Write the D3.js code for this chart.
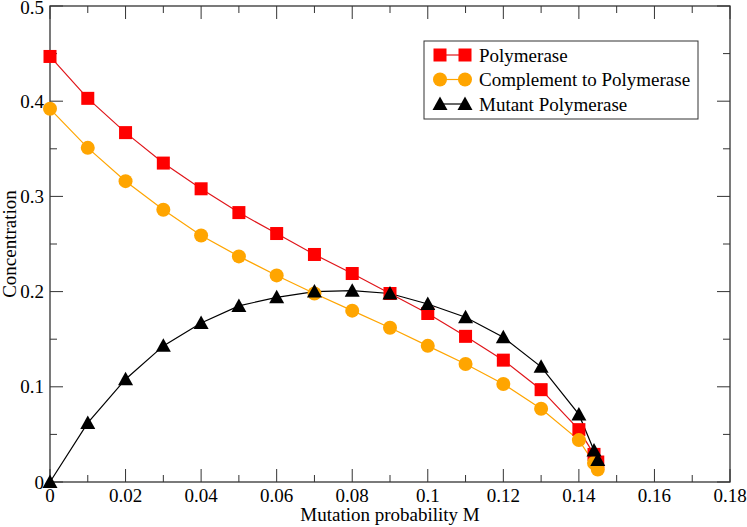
<!DOCTYPE html>
<html><head><meta charset="utf-8">
<script src="https://cdn.jsdelivr.net/npm/d3@7"></script>
</head><body style="margin:0">
<svg id="c" width="747" height="527"></svg>
<script>
const mValues = [0,0.01,0.02,0.03,0.04,0.05,0.06,0.07,0.08,0.09,0.10,0.11,0.12,0.13,0.14,0.144,0.145];
const polymerase = [0.447,0.403,0.367,0.335,0.308,0.283,0.261,0.239,0.219,0.198,0.177,0.153,0.128,0.097,0.055,0.029,0.021];
const complement = [0.392,0.351,0.316,0.286,0.259,0.237,0.217,0.198,0.180,0.162,0.143,0.124,0.103,0.077,0.044,0.020,0.013];
const mutant = [0.000,0.062,0.108,0.143,0.167,0.185,0.194,0.200,0.201,0.198,0.187,0.173,0.152,0.121,0.071,0.033,0.023];
const xTicks = [0,0.02,0.04,0.06,0.08,0.1,0.12,0.14,0.16,0.18];
const xTickLabels = ["0","0.02","0.04","0.06","0.08","0.1","0.12","0.14","0.16","0.18"];
const yTicks = [0,0.1,0.2,0.3,0.4,0.5];
const yTickLabels = ["0","0.1","0.2","0.3","0.4","0.5"];
const seriesNames = ["Polymerase","Complement to Polymerase","Mutant Polymerase"];

const FONT = '"Times New Roman", "Liberation Serif", Tinos, serif';
const FS = "19px";
const svg = d3.select("#c");
svg.style("font-family", FONT, "important");
const L=50,R=730,T=6,B=482;
const x = d3.scaleLinear().domain([0,0.18]).range([L,R]);
const y = d3.scaleLinear().domain([0,0.5]).range([B,T]);
const axisCol="#333";

svg.append("rect").attr("width",747).attr("height",527).attr("fill","#fff");
const g = svg.append("g");
const xMinor = d3.range(0,19).map(i=>i*0.01);
const yMinor = d3.range(0,11).map(i=>i*0.05);
xMinor.forEach((v,i)=>{
  const len = i%2===0?13:7;
  g.append("line").attr("x1",x(v)).attr("x2",x(v)).attr("y1",B).attr("y2",B-len).attr("stroke",axisCol);
  g.append("line").attr("x1",x(v)).attr("x2",x(v)).attr("y1",T).attr("y2",T+len).attr("stroke",axisCol);
});
yMinor.forEach((v,i)=>{
  const len = i%2===0?13:7;
  g.append("line").attr("y1",y(v)).attr("y2",y(v)).attr("x1",L).attr("x2",L+len).attr("stroke",axisCol);
  g.append("line").attr("y1",y(v)).attr("y2",y(v)).attr("x1",R).attr("x2",R-len).attr("stroke",axisCol);
});
svg.append("rect").attr("x",L).attr("y",T).attr("width",R-L).attr("height",B-T).attr("fill","none").attr("stroke",axisCol).attr("stroke-width",1.3);

function styleText(t){
  return t.attr("font-family",FONT).style("font-family",FONT,"important").style("font-size",FS).attr("fill","#000");
}
function txt(xx,yy,s,anchor){
  return styleText(svg.append("text").attr("x",xx).attr("y",yy).attr("text-anchor",anchor||"middle").text(s));
}
xTicks.forEach((v,i)=>txt(x(v),B+20,xTickLabels[i]));
yTicks.forEach((v,i)=>txt(L-6,Math.max(y(v)+6.5,14),yTickLabels[i],"end"));
txt((L+R)/2,B+39,"Mutation probability M");
styleText(svg.append("text").attr("transform",`translate(16,${(T+B)/2}) rotate(-90)`).attr("text-anchor","middle").text("Concentration"));

const line = d3.line().x((d,i)=>x(mValues[i])).y(d=>y(d));
const series = [
  {vals:polymerase,color:"#ff0000",lineColor:"#e0151a",sym:"square"},
  {vals:complement,color:"#ffa500",lineColor:"#ffa500",sym:"circle"},
  {vals:mutant,color:"#000",lineColor:"#000",sym:"triangle"}
];
function drawSym(sel,sym,cx,cy,color){
  if(sym==="square") sel.append("rect").attr("x",cx-6.5).attr("y",cy-6.5).attr("width",13).attr("height",13).attr("fill",color);
  else if(sym==="circle") sel.append("circle").attr("cx",cx).attr("cy",cy).attr("r",7).attr("fill",color);
  else sel.append("path").attr("d",`M${cx},${cy-7.5}L${cx+7.5},${cy+6}L${cx-7.5},${cy+6}Z`).attr("fill",color);
}
series.forEach(s=>{
  svg.append("path").datum(s.vals).attr("d",line).attr("fill","none").attr("stroke",s.lineColor).attr("stroke-width",1.2);
});
series.forEach(s=>{
  const gg=svg.append("g");
  s.vals.forEach((v,i)=>drawSym(gg,s.sym,x(mValues[i]),y(v),s.color));
});

const lg = svg.append("g");
lg.append("rect").attr("x",424).attr("y",41).attr("width",274).attr("height",78).attr("fill","#fff").attr("stroke","#333");
series.forEach((s,i)=>{
  const ly = 55+i*24.5;
  lg.append("line").attr("x1",440).attr("x2",465).attr("y1",ly).attr("y2",ly).attr("stroke",s.lineColor).attr("stroke-width",1.2);
  drawSym(lg,s.sym,440,ly,s.color);
  drawSym(lg,s.sym,465,ly,s.color);
  styleText(lg.append("text").attr("x",479).attr("y",ly+6.5).text(seriesNames[i]));
});
</script></body></html>
